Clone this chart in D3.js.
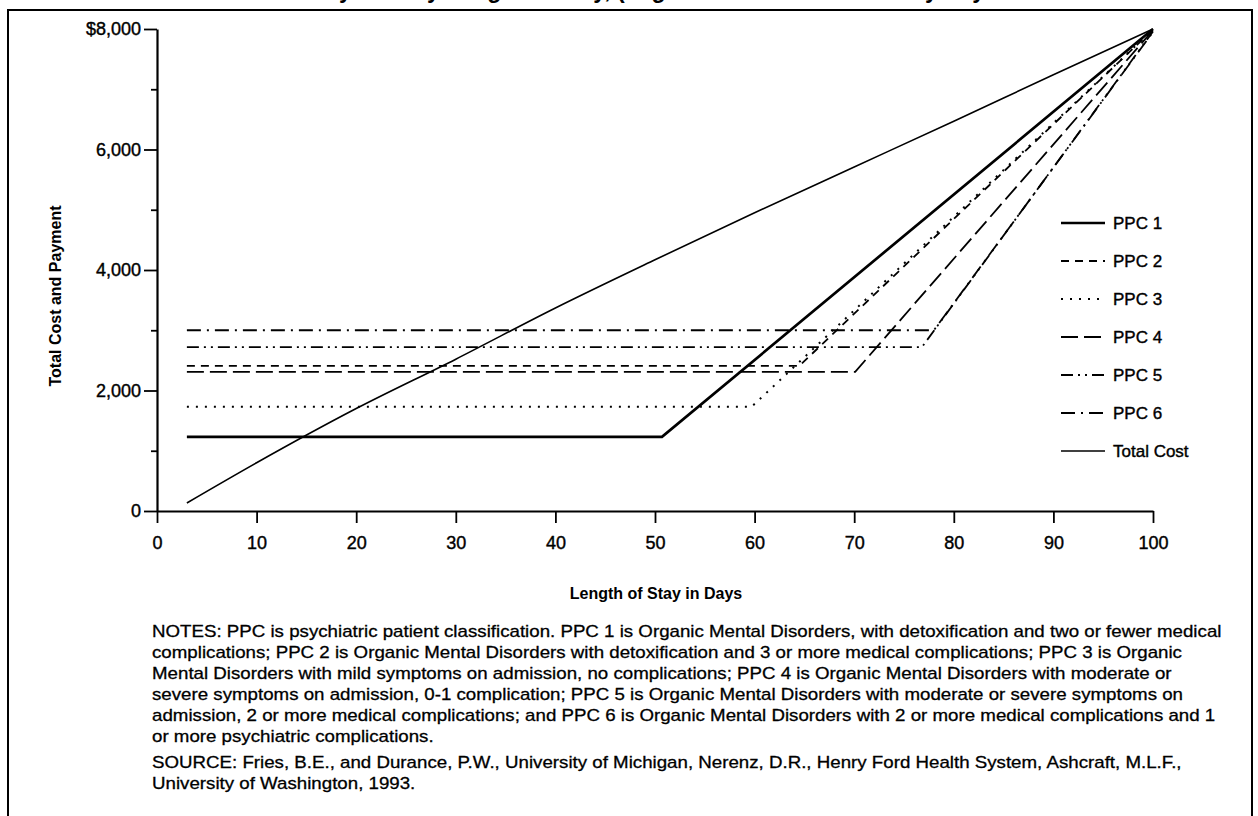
<!DOCTYPE html>
<html>
<head>
<meta charset="utf-8">
<script src="https://cdn.jsdelivr.net/npm/d3@7"></script>
<style>
  body { margin: 0; background: #fff; }
  svg { display: block; font-family: "Liberation Sans", Arial, sans-serif; }
</style>
</head>
<body>
<svg id="canvas" width="1258" height="816"></svg>
<script>
const titleText =
  "Total Cost and Payment by Length of Stay, (Organic Mental Disorders by Psychiatric Patient Classification)";

const seriesNames = ["PPC 1", "PPC 2", "PPC 3", "PPC 4", "PPC 5", "PPC 6"];
const startDay = 3;
const flatPayment = [1230, 2410, 1730, 2310, 2720, 3000];
const breakDay = [50.7, 64.5, 59.7, 70.1, 76.8, 78];
const endDay = 100;
const endPayment = [8000, 7990, 7990, 7980, 7960, 7950];

const costDays = [3, 10, 20, 30, 40, 50, 60, 70, 80, 90, 100];
const costValues = [133, 800, 1700, 2520, 3370, 4170, 4950, 5710, 6470, 7240, 8000];

const yTicks = [0, 2000, 4000, 6000, 8000];
const yMinorTicks = [1000, 3000, 5000, 7000];
const xTicks = [0, 10, 20, 30, 40, 50, 60, 70, 80, 90, 100];

const notesLines = [
  "NOTES:  PPC is psychiatric patient classification. PPC 1 is Organic Mental Disorders, with detoxification and two or fewer medical",
  "complications; PPC 2 is Organic Mental Disorders with detoxification and 3 or more medical complications; PPC 3 is Organic",
  "Mental Disorders with mild symptoms on admission, no complications;  PPC 4 is Organic Mental Disorders with moderate or",
  "severe symptoms on admission, 0-1 complication;  PPC 5 is Organic Mental Disorders with moderate or severe symptoms on",
  "admission, 2 or more medical complications; and PPC 6 is Organic Mental Disorders with 2 or more medical complications and 1",
  "or more psychiatric complications.",
];
const sourceLines = [
  "SOURCE:  Fries, B.E., and Durance, P.W., University of Michigan, Nerenz, D.R., Henry Ford Health System, Ashcraft, M.L.F.,",
  "University of Washington, 1993.",
];

// dash styles per series (last one is total cost)
const dashes = ["none", "8,6", "2,7", "17,6", "12,5,2,5,2,5", "14,6,2,6", "none"];
const widths = [2.7, 1.8, 2, 1.8, 1.8, 1.8, 1.6];

const canvas = d3.select("#canvas");

const xScale = d3.scaleLinear().domain([0, 100]).range([157, 1153]);
const yScale = d3.scaleLinear().domain([0, 8000]).range([511, 29]);

// frame
canvas
  .append("rect")
  .attr("x", 8)
  .attr("y", 10)
  .attr("width", 1244)
  .attr("height", 830)
  .attr("fill", "none")
  .attr("stroke", "#000")
  .attr("stroke-width", 2);

// title, cut off at the top of the page (only descenders show)
canvas
  .append("text")
  .attr("x", 730)
  .attr("y", -2)
  .attr("text-anchor", "middle")
  .attr("font-size", 23)
  .attr("font-weight", "bold")
  .text(titleText);

// axes
const yAxis = d3
  .axisLeft(yScale)
  .tickValues(yTicks)
  .tickSize(13)
  .tickSizeOuter(0)
  .tickPadding(3)
  .tickFormat((d) => (d === 8000 ? "$" : "") + d3.format(",")(d));

canvas.append("g").attr("transform", "translate(157,0)").call(yAxis);

canvas
  .append("g")
  .attr("transform", "translate(157,0)")
  .call(d3.axisLeft(yScale).tickValues(yMinorTicks).tickSize(6).tickSizeOuter(0).tickFormat(""))
  .select(".domain")
  .remove();

const xAxis = d3
  .axisBottom(xScale)
  .tickValues(xTicks)
  .tickSize(12)
  .tickSizeOuter(0)
  .tickPadding(13);

canvas.append("g").attr("transform", "translate(0,511)").call(xAxis);

canvas.selectAll(".domain").attr("stroke-width", 2.2);
canvas.selectAll(".tick line").attr("stroke-width", 1.8);
canvas
  .selectAll(".tick text")
  .attr("font-size", 18)
  .attr("font-family", "Liberation Sans, Arial, sans-serif")
  .attr("fill", "#000")
  .attr("stroke", "#000")
  .attr("stroke-width", 0.4);

// axis titles
canvas
  .append("text")
  .attr("transform", "translate(61,296) rotate(-90)")
  .attr("text-anchor", "middle")
  .attr("font-size", 16)
  .attr("font-weight", "bold")
  .text("Total Cost and Payment");

canvas
  .append("text")
  .attr("x", 656)
  .attr("y", 599)
  .attr("text-anchor", "middle")
  .attr("font-size", 16)
  .attr("font-weight", "bold")
  .text("Length of Stay in Days");

// lines
const line = d3
  .line()
  .x((d) => xScale(d[0]))
  .y((d) => yScale(d[1]));

const curve = d3
  .line()
  .curve(d3.curveMonotoneX)
  .x((d) => xScale(d[0]))
  .y((d) => yScale(d[1]));

const seriesData = seriesNames.map((name, i) => [
  [startDay, flatPayment[i]],
  [breakDay[i], flatPayment[i]],
  [endDay, endPayment[i]],
]);
seriesData.push(costDays.map((d, i) => [d, costValues[i]]));

canvas
  .selectAll("path.series")
  .data(seriesData)
  .enter()
  .append("path")
  .attr("class", "series")
  .attr("d", (d, i) => (i === seriesNames.length ? curve(d) : line(d)))
  .attr("fill", "none")
  .attr("stroke", "#000")
  .attr("stroke-width", (d, i) => widths[i])
  .attr("stroke-dasharray", (d, i) => dashes[i]);

// legend
const legendNames = seriesNames.concat(["Total Cost"]);
const legend = canvas
  .selectAll("g.legend")
  .data(legendNames)
  .enter()
  .append("g")
  .attr("class", "legend")
  .attr("transform", (d, i) => `translate(1061,${223 + i * 38})`);

legend
  .append("line")
  .attr("x1", 0)
  .attr("x2", 44)
  .attr("stroke", "#000")
  .attr("stroke-width", (d, i) => widths[i])
  .attr("stroke-dasharray", (d, i) => dashes[i]);

legend
  .append("text")
  .attr("x", 52)
  .attr("y", 6)
  .attr("font-size", 17)
  .attr("stroke", "#000")
  .attr("stroke-width", 0.4)
  .text((d) => d);

// notes and source: same font everywhere, stretched a little wider like the print
const addLines = (lines, top, cls) => {
  canvas
    .selectAll("text." + cls)
    .data(lines)
    .enter()
    .append("text")
    .attr("class", cls)
    .attr("x", 152)
    .attr("y", (d, i) => top + i * 21)
    .attr("font-size", 17)
    .attr("stroke", "#000")
    .attr("stroke-width", 0.3)
    .text((d) => d)
    .each(function () {
      const len = this.getComputedTextLength();
      d3.select(this)
        .attr("textLength", len * 1.1)
        .attr("lengthAdjust", "spacingAndGlyphs");
    });
};

addLines(notesLines, 637, "note");
addLines(sourceLines, 768, "source");
</script>
</body>
</html>
